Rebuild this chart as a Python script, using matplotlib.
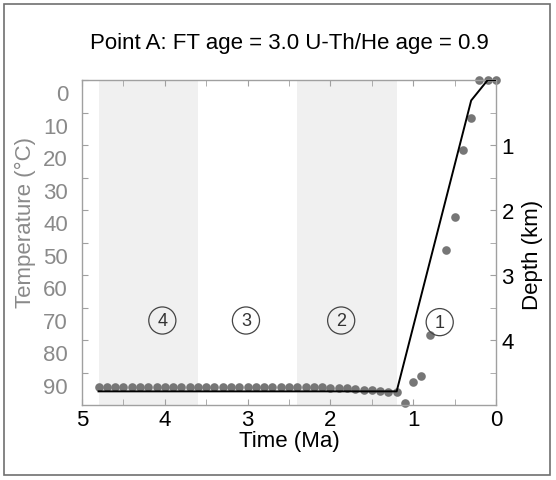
import matplotlib
matplotlib.use('Agg')
import matplotlib.pyplot as plt
from matplotlib.patches import Rectangle
from matplotlib.transforms import ScaledTranslation

plt.rcParams.update({
    'font.family': ['Liberation Sans', 'DejaVu Sans'],
    'font.size': 16,
})

TITLE = 'Point A: FT age = 3.0 U-Th/He age = 0.9'

# modelled thermal history (black line)
path_time = [4.8, 1.2, 0.3, 0.1, 0.0]
path_temp = [95.8, 95.8, 6.3, 0.0, 0.0]

# sampled points (grey dots)
dot_time = [4.8, 4.7, 4.6, 4.5, 4.4, 4.3, 4.2, 4.1, 4.0, 3.9, 3.8, 3.7, 3.6,
            3.5, 3.4, 3.3, 3.2, 3.1, 3.0, 2.9, 2.8, 2.7, 2.6, 2.5, 2.4, 2.3,
            2.2, 2.1, 2.0, 1.9, 1.8, 1.7, 1.6, 1.5, 1.4, 1.3, 1.2,
            1.1, 1.0, 0.9, 0.8, 0.6, 0.5, 0.4, 0.3, 0.2, 0.1, 0.0]
dot_temp = [94.4, 94.4, 94.4, 94.4, 94.4, 94.4, 94.4, 94.4, 94.4, 94.4, 94.4,
            94.4, 94.4, 94.4, 94.4, 94.4, 94.4, 94.4, 94.4, 94.4, 94.4, 94.4,
            94.4, 94.4, 94.4, 94.5, 94.5, 94.6, 94.7, 94.8, 94.9, 95.1, 95.3,
            95.5, 95.7, 95.9, 96.1,
            99.4, 92.9, 91.0, 78.4, 52.2, 42.0, 21.6, 11.7, 0.0, 0.0, 0.0]

# shaded time windows and their stage labels
bands = [(4.8, 3.6), (2.4, 1.2)]
stage_labels = ['4', '3', '2', '1']
stage_time = [4.03, 3.02, 1.87, 0.68]
stage_temp = [74, 74, 74, 74.5]

temp_ticks = [0, 10, 20, 30, 40, 50, 60, 70, 80, 90]
depth_major = [1, 2, 3, 4]
depth_minor = [0.5, 1.5, 2.5, 3.5, 4.5]

GREY = '#8a8a8a'
SPINE = '#a0a0a0'

fig = plt.figure(figsize=(5.56, 4.81), dpi=100)
ax = fig.add_axes([0.1475, 0.1559, 0.7446, 0.6757])

for t0, t1 in bands:
    ax.axvspan(t0, t1, color='#f0f0f0', lw=0, zorder=0)

ax.plot(dot_time, dot_temp, 'o', color='#767676', ms=6.2, mew=0, zorder=2, clip_on=False)
ax.plot(path_time, path_temp, color='black', lw=1.4, zorder=3)

for lab, t, T in zip(stage_labels, stage_time, stage_temp):
    ax.text(t, T, lab, ha='center', va='center', fontsize=13, color='#333333',
            bbox=dict(boxstyle='circle,pad=0.28', fc='none', ec='#444444', lw=0.9))

ax.set_xlim(5, 0)
ax.set_ylim(100, 0)
ax.set_xticks([5, 4, 3, 2, 1, 0])
ax.set_xticks([4.5, 3.5, 2.5, 1.5, 0.5], minor=True)
ax.set_yticks(temp_ticks)
ax.tick_params(axis='both', which='both', direction='in', length=4, color=SPINE)
ax.tick_params(axis='x', which='both', top=True, pad=3, labelsize=16)
ax.tick_params(axis='y', pad=10, labelsize=16, labelcolor=GREY)

# temperature labels sit a little below their ticks
shift = ScaledTranslation(0, -0.12, fig.dpi_scale_trans)
for lab in ax.get_yticklabels():
    lab.set_transform(lab.get_transform() + shift)

for sp in ax.spines.values():
    sp.set_color(SPINE)
    sp.set_linewidth(1.0)

ax.set_xlabel('Time (Ma)', fontsize=16, labelpad=0)
ax.set_ylabel('Temperature (°C)', fontsize=16, color=GREY)
ax.yaxis.set_label_coords(-0.112, 0.566)

ax2 = ax.twinx()
ax2.set_ylim(5, 0)
ax2.set_yticks(depth_major)
ax2.set_yticks(depth_minor, minor=True)
ax2.tick_params(axis='y', which='both', direction='in', length=4, color=SPINE,
                pad=4, labelsize=16)
for sp in ax2.spines.values():
    sp.set_visible(False)
ax2.set_ylabel('Depth (km)', fontsize=16)
ax2.yaxis.set_label_coords(1.062, 0.465)

fig.text(0.52, 0.9106, TITLE, ha='center', va='center', fontsize=16)

fig.patches.append(Rectangle((4 / 556, 5 / 481), 546 / 556, 471 / 481,
                             transform=fig.transFigure, fill=False,
                             ec='#707070', lw=1.2))

fig.savefig('out.png', dpi=100)
